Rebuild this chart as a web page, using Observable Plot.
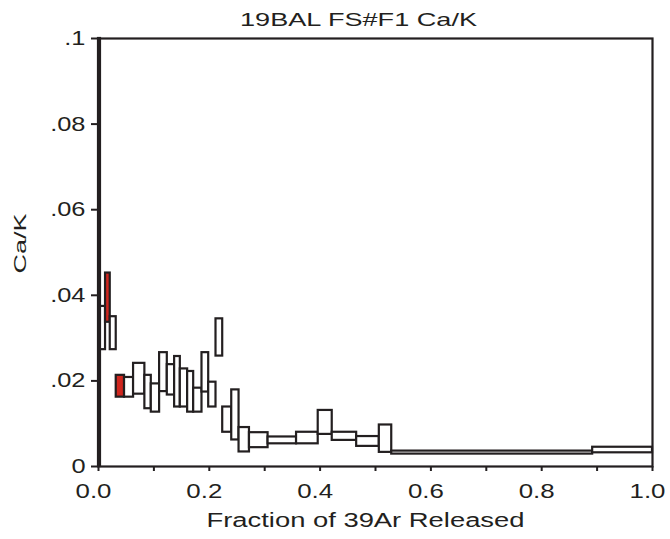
<!DOCTYPE html>
<html>
<head>
<meta charset="utf-8">
<script src="https://cdn.jsdelivr.net/npm/d3@7"></script>
<script src="https://cdn.jsdelivr.net/npm/@observablehq/plot@0.6"></script>
<style>
  html, body { margin: 0; padding: 0; background: #fff; }
  svg { font-family: "Liberation Sans", Arial, sans-serif; }
</style>
</head>
<body>
<div id="chart"></div>
<script>
// Step heating increments: cumulative fraction of 39Ar (start, end) and Ca/K range (low, high)
const stepStart = [0, 0.0036, 0.0127, 0.0212, 0.032, 0.047, 0.0633, 0.0837, 0.0953, 0.1103,
  0.1242, 0.1374, 0.1477, 0.1609, 0.1718, 0.1868, 0.1989, 0.2121, 0.2242, 0.2405,
  0.2537, 0.2725, 0.3061, 0.3575, 0.3966, 0.4219, 0.466, 0.5069, 0.5293, 0.892];
const stepEnd = [0.0036, 0.0127, 0.0212, 0.032, 0.047, 0.0633, 0.0837, 0.0953, 0.1103, 0.1242,
  0.1374, 0.1477, 0.1609, 0.1718, 0.1868, 0.1989, 0.2121, 0.2242, 0.2405, 0.2537,
  0.2725, 0.3061, 0.3575, 0.3966, 0.4219, 0.466, 0.5069, 0.5293, 0.892, 1.0];
const caKLow = [0, 0.0273, 0.0337, 0.0273, 0.0162, 0.0162, 0.0169, 0.0135, 0.0127, 0.0175,
  0.0167, 0.0139, 0.0139, 0.0127, 0.0127, 0.0174, 0.0139, 0.0258, 0.0080, 0.0062,
  0.0034, 0.0044, 0.0053, 0.0053, 0.0075, 0.0061, 0.0047, 0.0033, 0.0029, 0.0032];
const caKHigh = [0.1, 0.0374, 0.0452, 0.0350, 0.0213, 0.0208, 0.0241, 0.0213, 0.0193, 0.0266,
  0.0238, 0.0257, 0.0228, 0.0222, 0.0183, 0.0266, 0.0197, 0.0345, 0.0139, 0.0179,
  0.0091, 0.0079, 0.0069, 0.0080, 0.0131, 0.0080, 0.0070, 0.0097, 0.0036, 0.0045];
// increments highlighted in red
const highlighted = [false, false, true, false, true, false, false, false, false, false,
  false, false, false, false, false, false, false, false, false, false,
  false, false, false, false, false, false, false, false, false, false];

const xTickValues = [0, 0.2, 0.4, 0.6, 0.8, 1.0];
const xTickLabels = ["0.0", "0.2", "0.4", "0.6", "0.8", "1.0"];
const xMinorTicks = [0, 0.1, 0.2, 0.3, 0.4, 0.5, 0.6, 0.7, 0.8, 0.9, 1.0];
const yTickValues = [0, 0.02, 0.04, 0.06, 0.08, 0.1];
const yTickLabels = ["0", ".02", ".04", ".06", ".08", ".1"];

const titleText = "19BAL FS#F1 Ca/K";
const xLabel = "Fraction of 39Ar Released";
const yLabel = "Ca/K";

const steps = stepStart.map((s, i) => ({
  x1: s, x2: stepEnd[i], y1: caKLow[i], y2: caKHigh[i], red: highlighted[i]
}));

const ink = "#231f20";

const svg = Plot.plot({
  width: 670,
  height: 539,
  marginTop: 38,
  marginBottom: 73,
  marginLeft: 98,
  marginRight: 18,
  style: { fontFamily: "Liberation Sans, Arial, sans-serif", color: ink, background: "#fff" },
  x: { domain: [0, 1] },
  y: { domain: [0, 0.1] },
  marks: [
    Plot.rect(steps, {
      x1: "x1", x2: "x2", y1: "y1", y2: "y2",
      fill: d => d.red ? "#d0261e" : "#ffffff",
      stroke: ink, strokeWidth: 2.2
    }),
    Plot.frame({ stroke: ink, strokeWidth: 2.2 }),
    Plot.axisX({ ticks: xMinorTicks, tickSize: 5, tickFormat: () => "", stroke: ink, strokeWidth: 2 }),
    Plot.axisX({
      ticks: xTickValues, tickSize: 0, tickPadding: 17,
      tickFormat: d => xTickLabels[xTickValues.indexOf(d)],
      fontSize: 21, dx: -5, fill: ink
    }),
    Plot.axisY({
      ticks: yTickValues, tickSize: 7, tickPadding: 6,
      tickFormat: d => yTickLabels[yTickValues.indexOf(d)],
      fontSize: 20, fill: ink, stroke: ink, strokeWidth: 2
    }),
    Plot.text([titleText], {
      frameAnchor: "top", dx: -17, dy: -13, lineAnchor: "bottom",
      fontSize: 19, fill: ink
    }),
    Plot.text([xLabel], {
      frameAnchor: "bottom", dx: -10, dy: 46, lineAnchor: "top",
      fontSize: 20, fill: ink
    }),
    Plot.text([yLabel], {
      frameAnchor: "left", dx: -78, dy: -9, rotate: -90, textAnchor: "middle",
      fontSize: 17, fill: ink
    })
  ]
});

document.getElementById("chart").appendChild(svg);

// widen the glyphs to match the reference's wide lettering
function stretchText(t, width) {
  t.setAttribute("textLength", width);
  t.setAttribute("lengthAdjust", "spacingAndGlyphs");
}
svg.querySelectorAll("text").forEach(t => {
  const s = t.textContent;
  const L = t.getComputedTextLength();
  if (!L) return;
  if (s === titleText) stretchText(t, 237);
  else if (s === xLabel) stretchText(t, 318);
  else if (s === yLabel) stretchText(t, 60);
  else if (xTickLabels.includes(s)) stretchText(t, L * 1.23);
  else if (yTickLabels.includes(s)) stretchText(t, L * 1.27);
});
</script>
</body>
</html>
